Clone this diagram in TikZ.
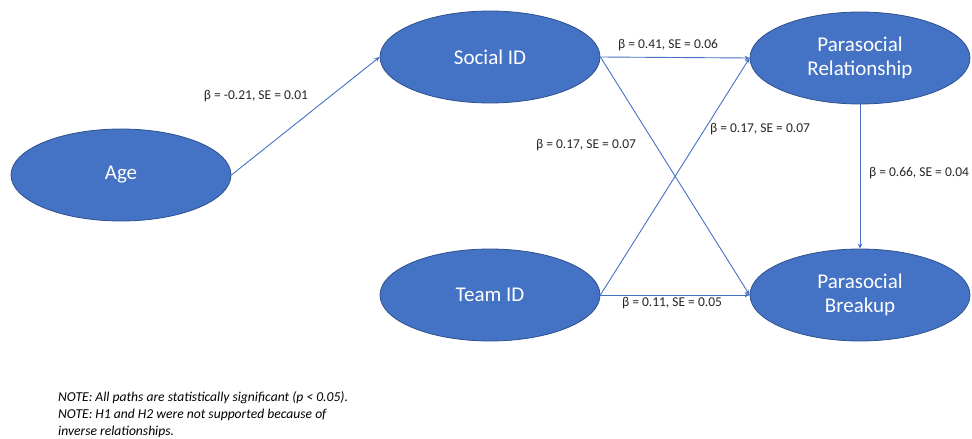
\documentclass[tikz,border=0pt]{standalone}
\usepackage{fontspec}
\setmainfont{Carlito}
\usetikzlibrary{shapes.geometric,arrows.meta}
\definecolor{ofill}{HTML}{4472C4}
\definecolor{oedge}{HTML}{2F528F}
\begin{document}
\begin{tikzpicture}[x=1pt,y=-1pt,
  var/.style={ellipse,fill=ofill,draw=oedge,line width=0.8pt,minimum width=220pt,minimum height=92pt,inner sep=0pt,text=white,font=\fontsize{21}{24}\selectfont,align=center},
  path/.style={draw=ofill,line width=0.9pt,-{Stealth[length=5pt,width=4.5pt]}},
  lab/.style={font=\fontsize{13.5}{15}\selectfont,text=black!85,inner sep=1pt},
  note/.style={font=\itshape\fontsize{13.6}{17}\selectfont,align=left,anchor=north west,inner sep=0pt}]
\useasboundingbox (0,0) rectangle (972,439);
\node[var] (age) at (121,175) {Age};
\node[var] (soc) at (490,57) {Social ID};
\node[var] (team) at (490,295) {Team ID};
\node[var] (pr) at (860,58) {Parasocial\\Relationship};
\node[var] (pb) at (860,295) {Parasocial\\Breakup};
\draw[path] (age.east) -- (soc.west);
\draw[path] (soc.east) -- (pr.west);
\draw[path] (soc.east) -- (pb.west);
\draw[path] (team.east) -- (pr.west);
\draw[path] (team.east) -- (pb.west);
\draw[path] (pr.south) -- (pb.north);
\node[lab] (l1) at (256,96) {β = -0.21, SE = 0.01};
\node[lab] (l2) at (668,45) {β = 0.41, SE = 0.06};
\node[lab] (l3) at (586,145) {β = 0.17, SE = 0.07};
\node[lab] (l4) at (760,129) {β = 0.17, SE = 0.07};
\node[lab] (l5) at (672,303) {β = 0.11, SE = 0.05};
\node[lab] (l6) at (919,173) {β = 0.66, SE = 0.04};
\node[note] (n) at (58,391) {NOTE: All paths are statistically significant (p < 0.05).\\NOTE: H1 and H2 were not supported because of\\inverse relationships.};
\end{tikzpicture}
\end{document}
